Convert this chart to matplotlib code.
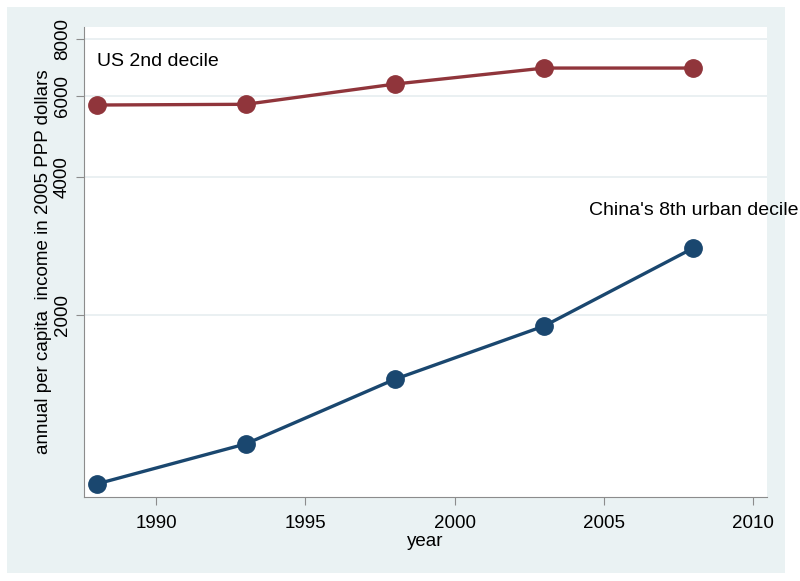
import matplotlib.pyplot as plt
from matplotlib.ticker import FixedLocator, NullLocator

years = [1988, 1993, 1998, 2003, 2008]
us_2nd = [5744, 5765, 6382, 6916, 6916]
china_8th = [856, 1047, 1449, 1893, 2800]
yticks = [2000, 4000, 6000, 8000]
xticks = [1990, 1995, 2000, 2005, 2010]

plt.rcParams['font.family'] = ['Liberation Sans', 'DejaVu Sans']

fig = plt.figure(figsize=(8, 5.81), dpi=100)
# light blue-grey graph region with a thin white border
bg = plt.Rectangle((7/800, 1 - 573/581), 778/800, 566/581, transform=fig.transFigure,
                   facecolor='#eaf2f3', edgecolor='none', zorder=-10)
fig.patches.append(bg)

ax = fig.add_axes([84/800, 1 - 497/581, (767-84)/800, (497-27)/581])
ax.set_facecolor('white')

navy = '#1a476f'
maroon = '#90353b'
ax.plot(years, us_2nd, color=maroon, lw=2.4, marker='o', ms=12.5, zorder=3)
ax.plot(years, china_8th, color=navy, lw=2.4, marker='o', ms=12.5, zorder=3)

ax.set_yscale('log')
ax.set_ylim(802, 8500)
ax.set_xlim(1987.58, 2010.47)
ax.yaxis.set_major_locator(FixedLocator(yticks))
ax.yaxis.set_minor_locator(NullLocator())
ax.set_yticklabels([str(v) for v in yticks], rotation=90, va='center')
ax.set_xticks(xticks)
ax.grid(axis='y', color='#e6eef0', lw=1.2)
ax.set_axisbelow(True)

for s in ['top', 'right']:
    ax.spines[s].set_visible(False)
for s in ['left', 'bottom']:
    ax.spines[s].set_color('#8c8c8c')
ax.tick_params(direction='out', length=6, color='#8c8c8c', labelsize=13.5)
ax.tick_params(axis='x', pad=7)

ax.set_xlabel('year', fontsize=13.5, labelpad=1)
ax.set_ylabel('annual per capita  income in 2005 PPP dollars', fontsize=13.5, labelpad=1)

ax.text(1988, 7150, 'US 2nd decile', fontsize=14, va='center', ha='left')
ax.text(2004.5, 3380, "China's 8th urban decile", fontsize=14, va='center', ha='left',
        clip_on=False)

fig.savefig('out.png', dpi=100, facecolor='white')
